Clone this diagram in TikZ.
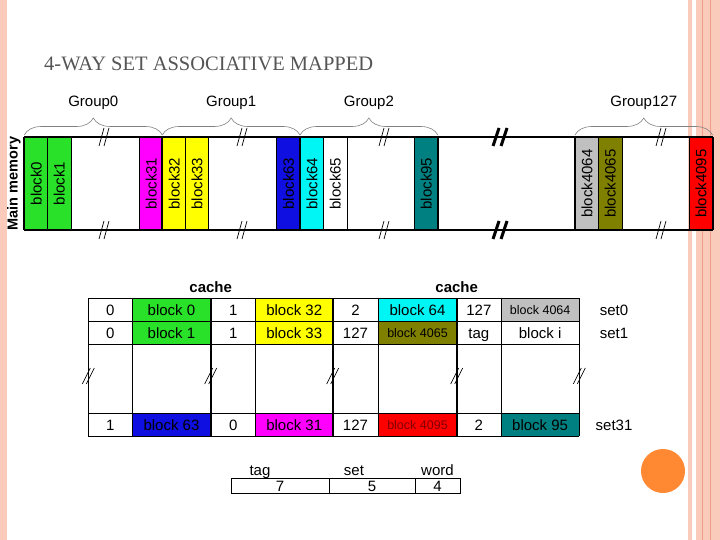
\documentclass[tikz,border=0pt]{standalone}
\usepackage{fontspec}
\setmainfont{Liberation Sans}
\newfontfamily\titlefont{Liberation Serif}
\usetikzlibrary{decorations.pathreplacing}

\definecolor{memgreen}{RGB}{40,225,40}
\definecolor{memmagenta}{RGB}{255,0,255}
\definecolor{memyellow}{RGB}{255,255,0}
\definecolor{memblue}{RGB}{15,15,225}
\definecolor{memcyan}{RGB}{0,245,245}
\definecolor{memteal}{RGB}{0,128,128}
\definecolor{memgray}{RGB}{192,192,192}
\definecolor{memolive}{RGB}{128,128,0}
\definecolor{memred}{RGB}{255,0,0}
\definecolor{slidepink}{RGB}{250,202,186}
\definecolor{slidedark}{RGB}{238,160,135}
\definecolor{slidedot}{RGB}{255,136,51}
\definecolor{titlegray}{RGB}{85,85,85}

\begin{document}
\begin{tikzpicture}[x=1pt,y=-1pt,
    blklabel/.style={rotate=90, inner sep=0pt, font=\fontsize{15}{18}\selectfont},
    grp/.style={font=\fontsize{15}{18}\selectfont},
    cell/.style={inner sep=0pt, text height=10.8pt, text depth=0pt, font=\fontsize{15}{18}\selectfont},
    smallcell/.style={inner sep=0pt, text height=9pt, text depth=0pt, font=\fontsize{12.5}{15}\selectfont},
    smallred/.style={smallcell, text={rgb,255:red,130;green,0;blue,0}},
    brace/.style={decorate, decoration={brace, amplitude=17pt}, draw=gray, line width=0.6pt},
    cut/.style={line width=0.7pt},
    bigcut/.style={line width=3pt}]
  \useasboundingbox (0,0) rectangle (720,540);

  % slide frame
  \fill[slidepink] (0,0) rectangle (7,540);
  \fill[slidepink] (688,0) rectangle (692,540);
  \fill[slidepink] (696,0) rectangle (720,540);
  \draw[slidedark, line width=0.8pt] (702,0) -- (702,540);
  \draw[slidedark, line width=0.5pt] (710,0) -- (710,540);
  \fill[slidedot] (663,471) circle (22);

  % title
  \node[anchor=west, inner sep=0pt, text=titlegray, font=\titlefont\fontsize{20.5}{24}\selectfont] (title) at (44,64) {4-WAY SET ASSOCIATIVE MAPPED};

  % main memory blocks
  \foreach \xa/\col/\name in {24.3/memgreen/block0, 47.3/memgreen/block1, 139.3/memmagenta/block31,
      162.3/memyellow/block32, 185/memyellow/block33, 276.7/memblue/block63, 300/memcyan/block64,
      323.3/white/block65, 414.3/memteal/block95, 575/memgray/block4064, 598.3/memolive/block4065,
      689/memred/block4095} {
    \filldraw[fill=\col, draw=black, line width=0.6pt] (\xa,137) rectangle ++(23.5,93);
    \node[blklabel] (\name) at (\xa+11.9,183.5) {\name};
  }
  \draw[line width=2pt] (24.3,137) -- (713,137);
  \draw[line width=2pt] (24.3,230) -- (713,230);
  \foreach \xa in {24.3,162.3,300,437.8,575,712.5}
    \draw[line width=2pt] (\xa,137) -- (\xa,230);
  \node[rotate=90, inner sep=0pt, font=\bfseries\fontsize{14.5}{17}\selectfont] (mainmem) at (14,183.5) {Main memory};

  % groups
  \foreach \xa/\xb/\name/\txt in {24.3/162.3/g0/Group0, 162.3/300/g1/Group1,
      300/437.8/g2/Group2, 575/712.5/g127/Group127} {
    \draw[brace] (\xa,135) -- (\xb,135);
    \node[grp] (\name) at ({(\xa+\xb)/2},103) {\txt};
  }

  % breaks in memory
  \foreach \cx in {104,242,384,661}
    \foreach \cy in {137,230}
      \draw[cut] (\cx,\cy-9) -- (\cx-5,\cy+9) (\cx+5,\cy-9) -- (\cx,\cy+9);
  \foreach \cy in {137,230}
    \draw[bigcut] (499,\cy-9) -- (493,\cy+9) (507,\cy-9) -- (501,\cy+9);

  % cache cells
  \foreach \xa/\xb/\xc/\tg/\col/\fs/\txt [count=\i] in {
      88.3/132.3/210.7/0/memgreen/cell/block 0, 210.7/255.7/332.7/1/memyellow/cell/block 32,
      332.7/378.3/456.7/2/memcyan/cell/block 64, 456.7/501/579.3/127/memgray/smallcell/block 4064} {
    \fill[\col] (\xb,298.3) rectangle (\xc,321.7);
    \node[cell] (tA\i) at ({(\xa+\xb)/2},310) {\tg};
    \node[\fs] (bA\i) at ({(\xb+\xc)/2},310) {\txt};
  }
  \foreach \xa/\xb/\xc/\tg/\col/\fs/\txt [count=\i] in {
      88.3/132.3/210.7/0/memgreen/cell/block 1, 210.7/255.7/332.7/1/memyellow/cell/block 33,
      332.7/378.3/456.7/127/memolive/smallcell/block 4065, 456.7/501/579.3/tag/white/cell/block i} {
    \fill[\col] (\xb,321.7) rectangle (\xc,344.3);
    \node[cell] (tB\i) at ({(\xa+\xb)/2},333) {\tg};
    \node[\fs] (bB\i) at ({(\xb+\xc)/2},333) {\txt};
  }
  \foreach \xa/\xb/\xc/\tg/\col/\fs/\txt [count=\i] in {
      88.3/132.3/210.7/1/memblue/cell/block 63, 210.7/255.7/332.7/0/memmagenta/cell/block 31,
      332.7/378.3/456.7/127/memred/smallred/block 4095, 456.7/501/579.3/2/memteal/cell/block 95} {
    \fill[\col] (\xb,413.3) rectangle (\xc,436);
    \node[cell] (tC\i) at ({(\xa+\xb)/2},424.7) {\tg};
    \node[\fs] (bC\i) at ({(\xb+\xc)/2},424.7) {\txt};
  }

  % cache grid
  \foreach \cy in {298.3,321.7,344.3,413.3,436}
    \draw[line width=0.8pt] (88.3,\cy) -- (579.3,\cy);
  \foreach \xa in {88.3,132.3,255.7,378.3,501,579.3}
    \draw[line width=0.8pt] (\xa,298.3) -- (\xa,436);
  \foreach \xa in {210.7,332.7,456.7}
    \draw[line width=2pt] (\xa,298.3) -- (\xa,436);
  \foreach \cx in {88.3,210.7,332.7,456.7,579.3}
    \draw[cut] (\cx-6,384) -- (\cx+2,368) (\cx-2,384) -- (\cx+6,368);

  \node[font=\bfseries\fontsize{15}{18}\selectfont] (cacheA) at (210.7,287) {cache};
  \node[font=\bfseries\fontsize{15}{18}\selectfont] (cacheB) at (456.7,287) {cache};
  \node[cell] (set0) at (614,310) {set0};
  \node[cell] (set1) at (614,333) {set1};
  \node[cell] (set31) at (614,424.7) {set31};

  % address format
  \node[cell] (ftag) at (260,470) {tag};
  \node[cell] (fset) at (354,470) {set};
  \node[cell] (fword) at (437.5,470) {word};
  \draw[line width=0.8pt] (231.7,478.3) rectangle (460,493.3);
  \draw[line width=0.8pt] (329,478.3) -- (329,493.3);
  \draw[line width=0.8pt] (415,478.3) -- (415,493.3);
  \node[cell] (ntag) at (280,486) {7};
  \node[cell] (nset) at (372,486) {5};
  \node[cell] (nword) at (437.5,486) {4};
\end{tikzpicture}
\end{document}
